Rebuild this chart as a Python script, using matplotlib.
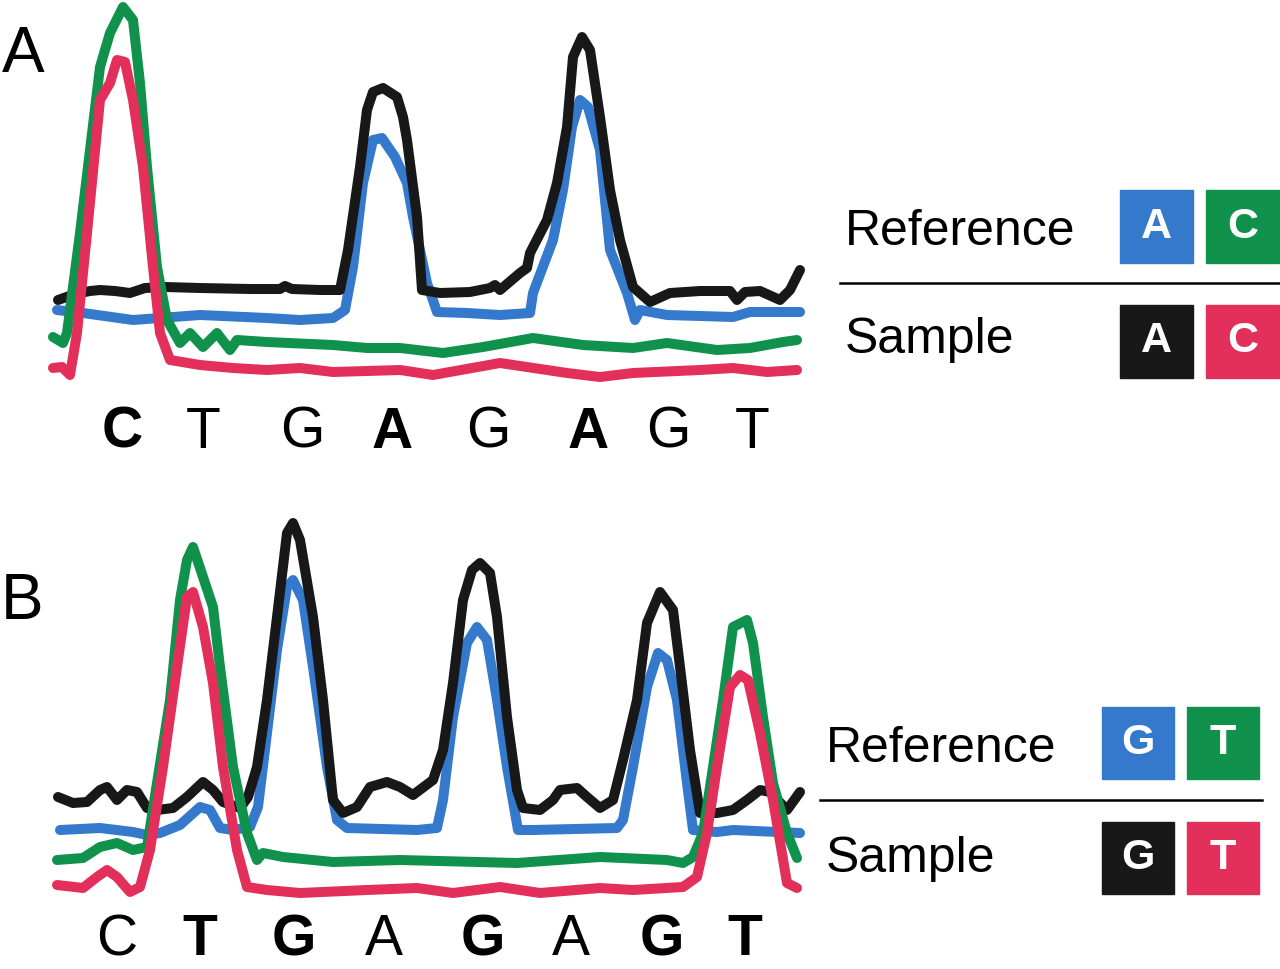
import matplotlib
matplotlib.use("Agg")
import matplotlib.pyplot as plt
from matplotlib.patches import Rectangle

plt.rcParams['font.family'] = ['Liberation Sans', 'DejaVu Sans']

# colours of the four dye traces
BLUE = "#3479cc"
GREEN = "#11924c"
RED = "#e2305a"
BLACK = "#181818"

# ---- panel A traces: (scan position, signal) ----
a_black_x = [58, 75, 90, 100, 115, 130, 145, 165, 200, 250, 280, 285, 292, 320, 340, 348, 360, 367, 373, 383,
             397, 403, 407, 417, 422, 440, 470, 480, 490, 495, 500, 520, 527, 530, 547, 557, 567, 573, 582, 590,
             600, 610, 620, 633, 650, 670, 700, 730, 737, 745, 760, 780, 790, 800]
a_black_y = [80, 86, 89, 90, 89, 87, 92, 93, 92, 91, 91, 94, 91, 90, 90, 130, 213, 270, 288, 292,
             283, 263, 240, 163, 90, 87, 88, 90, 92, 95, 90, 107, 112, 127, 160, 197, 253, 323, 343, 330,
             263, 190, 140, 93, 78, 87, 89, 89, 80, 88, 89, 80, 90, 110]

a_blue_x = [57, 83, 133, 200, 267, 300, 333, 345, 353, 363, 373, 382, 395, 407, 413, 427, 437, 467, 500, 530,
            533, 553, 563, 572, 580, 588, 600, 610, 627, 635, 640, 667, 733, 750, 800]
a_blue_y = [70, 67, 60, 65, 62, 60, 62, 70, 113, 197, 240, 242, 223, 197, 163, 97, 68, 67, 65, 67,
            87, 140, 190, 253, 280, 273, 230, 130, 87, 60, 70, 65, 63, 68, 68]

a_green_x = [53, 63, 67, 80, 90, 100, 110, 123, 133, 140, 147, 157, 167, 180, 190, 203, 217, 230, 237, 267,
             333, 367, 400, 443, 483, 533, 583, 633, 667, 717, 750, 783, 797]
a_green_y = [43, 37, 47, 147, 230, 313, 347, 373, 360, 297, 213, 113, 60, 37, 47, 33, 47, 30, 40, 38,
             35, 32, 32, 27, 33, 42, 35, 32, 37, 30, 32, 38, 40]

a_red_x = [53, 62, 70, 77, 87, 100, 110, 117, 125, 133, 143, 153, 160, 170, 200, 233, 267, 300, 333, 400,
           433, 500, 567, 600, 633, 700, 733, 767, 797]
a_red_y = [12, 13, 5, 47, 147, 280, 297, 320, 318, 280, 213, 113, 47, 20, 15, 12, 10, 12, 8, 10,
           5, 17, 7, 3, 7, 10, 12, 8, 10]

# ---- panel B traces ----
b_black_x = [58, 73, 87, 100, 107, 117, 127, 137, 147, 157, 173, 187, 203, 213, 223, 240, 248, 257, 267, 277,
             287, 293, 300, 313, 323, 333, 343, 357, 370, 387, 400, 413, 433, 443, 453, 463, 472, 480, 490, 497,
             507, 517, 523, 540, 553, 560, 577, 587, 600, 613, 623, 637, 647, 660, 673, 680, 690, 700, 717, 733,
             747, 760, 770, 787, 800]
b_black_y = [103, 97, 98, 110, 113, 100, 110, 108, 92, 90, 92, 103, 118, 110, 98, 92, 103, 133, 200, 283,
             367, 377, 360, 283, 200, 100, 87, 93, 113, 118, 113, 105, 120, 150, 217, 300, 330, 337, 327, 283,
             183, 110, 92, 90, 100, 110, 112, 103, 92, 100, 140, 200, 277, 308, 290, 233, 150, 87, 87, 90,
             100, 110, 108, 90, 108]

b_blue_x = [60, 100, 133, 147, 160, 180, 200, 210, 220, 233, 250, 258, 267, 277, 287, 293, 303, 313, 327, 337,
            347, 417, 437, 443, 453, 467, 477, 487, 497, 507, 518, 533, 617, 623, 633, 647, 658, 667, 677, 687,
            693, 717, 733, 800]
b_blue_y = [70, 72, 68, 65, 67, 75, 93, 90, 72, 70, 73, 93, 167, 250, 313, 320, 300, 233, 133, 80,
            72, 70, 72, 100, 183, 257, 273, 260, 200, 133, 70, 70, 72, 80, 133, 213, 247, 240, 200, 117,
            70, 68, 70, 67]

b_green_x = [57, 83, 100, 117, 133, 147, 157, 170, 180, 187, 193, 203, 213, 220, 233, 247, 257, 263, 283, 333,
             400, 517, 600, 667, 683, 693, 703, 713, 723, 733, 747, 753, 763, 773, 787, 797]
b_green_y = [40, 42, 53, 57, 50, 53, 117, 200, 300, 340, 353, 323, 293, 233, 133, 67, 40, 47, 43, 38,
             40, 37, 43, 40, 37, 43, 67, 133, 200, 273, 280, 257, 183, 117, 67, 42]

b_red_x = [57, 83, 97, 107, 117, 130, 140, 150, 163, 177, 187, 193, 203, 213, 223, 237, 247, 267, 300, 367,
           417, 453, 500, 540, 600, 633, 683, 697, 707, 717, 730, 740, 748, 760, 773, 787, 797]
b_red_y = [15, 12, 23, 30, 23, 8, 13, 50, 133, 233, 303, 308, 273, 217, 133, 50, 13, 10, 7, 10,
           12, 7, 13, 7, 12, 10, 13, 23, 67, 133, 213, 225, 220, 167, 100, 17, 12]

# base calls under the traces (x position, letter, bold?)
a_calls_x = [122, 203, 302, 392, 488, 588, 668, 752]
a_calls = ["C", "T", "G", "A", "G", "A", "G", "T"]
a_bold = [True, False, False, True, False, True, False, False]

b_calls_x = [117, 200, 294, 384, 483, 571, 662, 745]
b_calls = ["C", "T", "G", "A", "G", "A", "G", "T"]
b_bold = [False, True, True, False, True, False, True, True]

# legend contents
a_ref_bases = ["A", "C"]
a_smp_bases = ["A", "C"]
b_ref_bases = ["G", "T"]
b_smp_bases = ["G", "T"]

W, H = 1280, 969
fig = plt.figure(figsize=(12.8, 9.69), dpi=100, facecolor="white")

# panel A: signal 0 sits at pixel row 380, panel B: signal 0 at row 900
axA = fig.add_axes([0, (H - 380) / H, 1, 380 / H])
axA.set_xlim(0, W)
axA.set_ylim(0, 380)
axB = fig.add_axes([0, (H - 900) / H, 1, 400 / H])
axB.set_xlim(0, W)
axB.set_ylim(0, 400)

LW = 7.2


def draw_traces(ax, traces):
    for xs, ys, col in traces:
        ax.plot(xs, ys, color=col, lw=LW, solid_joinstyle="round",
                solid_capstyle="round", clip_on=False)


draw_traces(axA, [(a_blue_x, a_blue_y, BLUE), (a_black_x, a_black_y, BLACK),
                  (a_green_x, a_green_y, GREEN), (a_red_x, a_red_y, RED)])
draw_traces(axB, [(b_blue_x, b_blue_y, BLUE), (b_black_x, b_black_y, BLACK),
                  (b_green_x, b_green_y, GREEN), (b_red_x, b_red_y, RED)])

# bottom row sits a little higher than in the scan so no letter is clipped
for ax, xs, calls, bold, base in [(axA, a_calls_x, a_calls, a_bold, -68),
                                  (axB, b_calls_x, b_calls, b_bold, -55)]:
    for x, c, b in zip(xs, calls, bold):
        ax.text(x, base, c, fontsize=41, fontweight="bold" if b else "normal",
                ha="center", va="baseline", color="black", clip_on=False)

axA.text(23, 325, "A", fontsize=46, ha="center", va="center")
axB.text(22, 298, "B", fontsize=46, ha="center", va="center")


def legend(ax, x_text, x_box, box_w, gap, ref_top, smp_top, line_y, line_x0, line_x1,
           ref_base, smp_base, ref_bases, smp_bases):
    ax.text(x_text, ref_base, "Reference", fontsize=36, ha="left", va="baseline")
    ax.text(x_text, smp_base, "Sample", fontsize=36, ha="left", va="baseline")
    ax.plot([line_x0, line_x1], [line_y, line_y], color="black", lw=1.8, clip_on=False)
    for top, bases, cols in [(ref_top, ref_bases, [BLUE, GREEN]), (smp_top, smp_bases, [BLACK, RED])]:
        for i, (b, col) in enumerate(zip(bases, cols)):
            x0 = x_box + i * (box_w + gap)
            ax.add_patch(Rectangle((x0, top - box_w), box_w, box_w, color=col, clip_on=False))
            ax.text(x0 + box_w / 2, top - box_w / 2, b, fontsize=31, fontweight="bold",
                    color="white", ha="center", va="center")


legend(axA, 845, 1120, 73, 13, 190, 75, 97, 840, 1280, 135, 27, a_ref_bases, a_smp_bases)
legend(axB, 826, 1102, 72, 13, 193, 78, 100, 820, 1262, 138, 28, b_ref_bases, b_smp_bases)

for ax in (axA, axB):
    ax.axis("off")

fig.savefig("out.png", dpi=100, facecolor="white")
